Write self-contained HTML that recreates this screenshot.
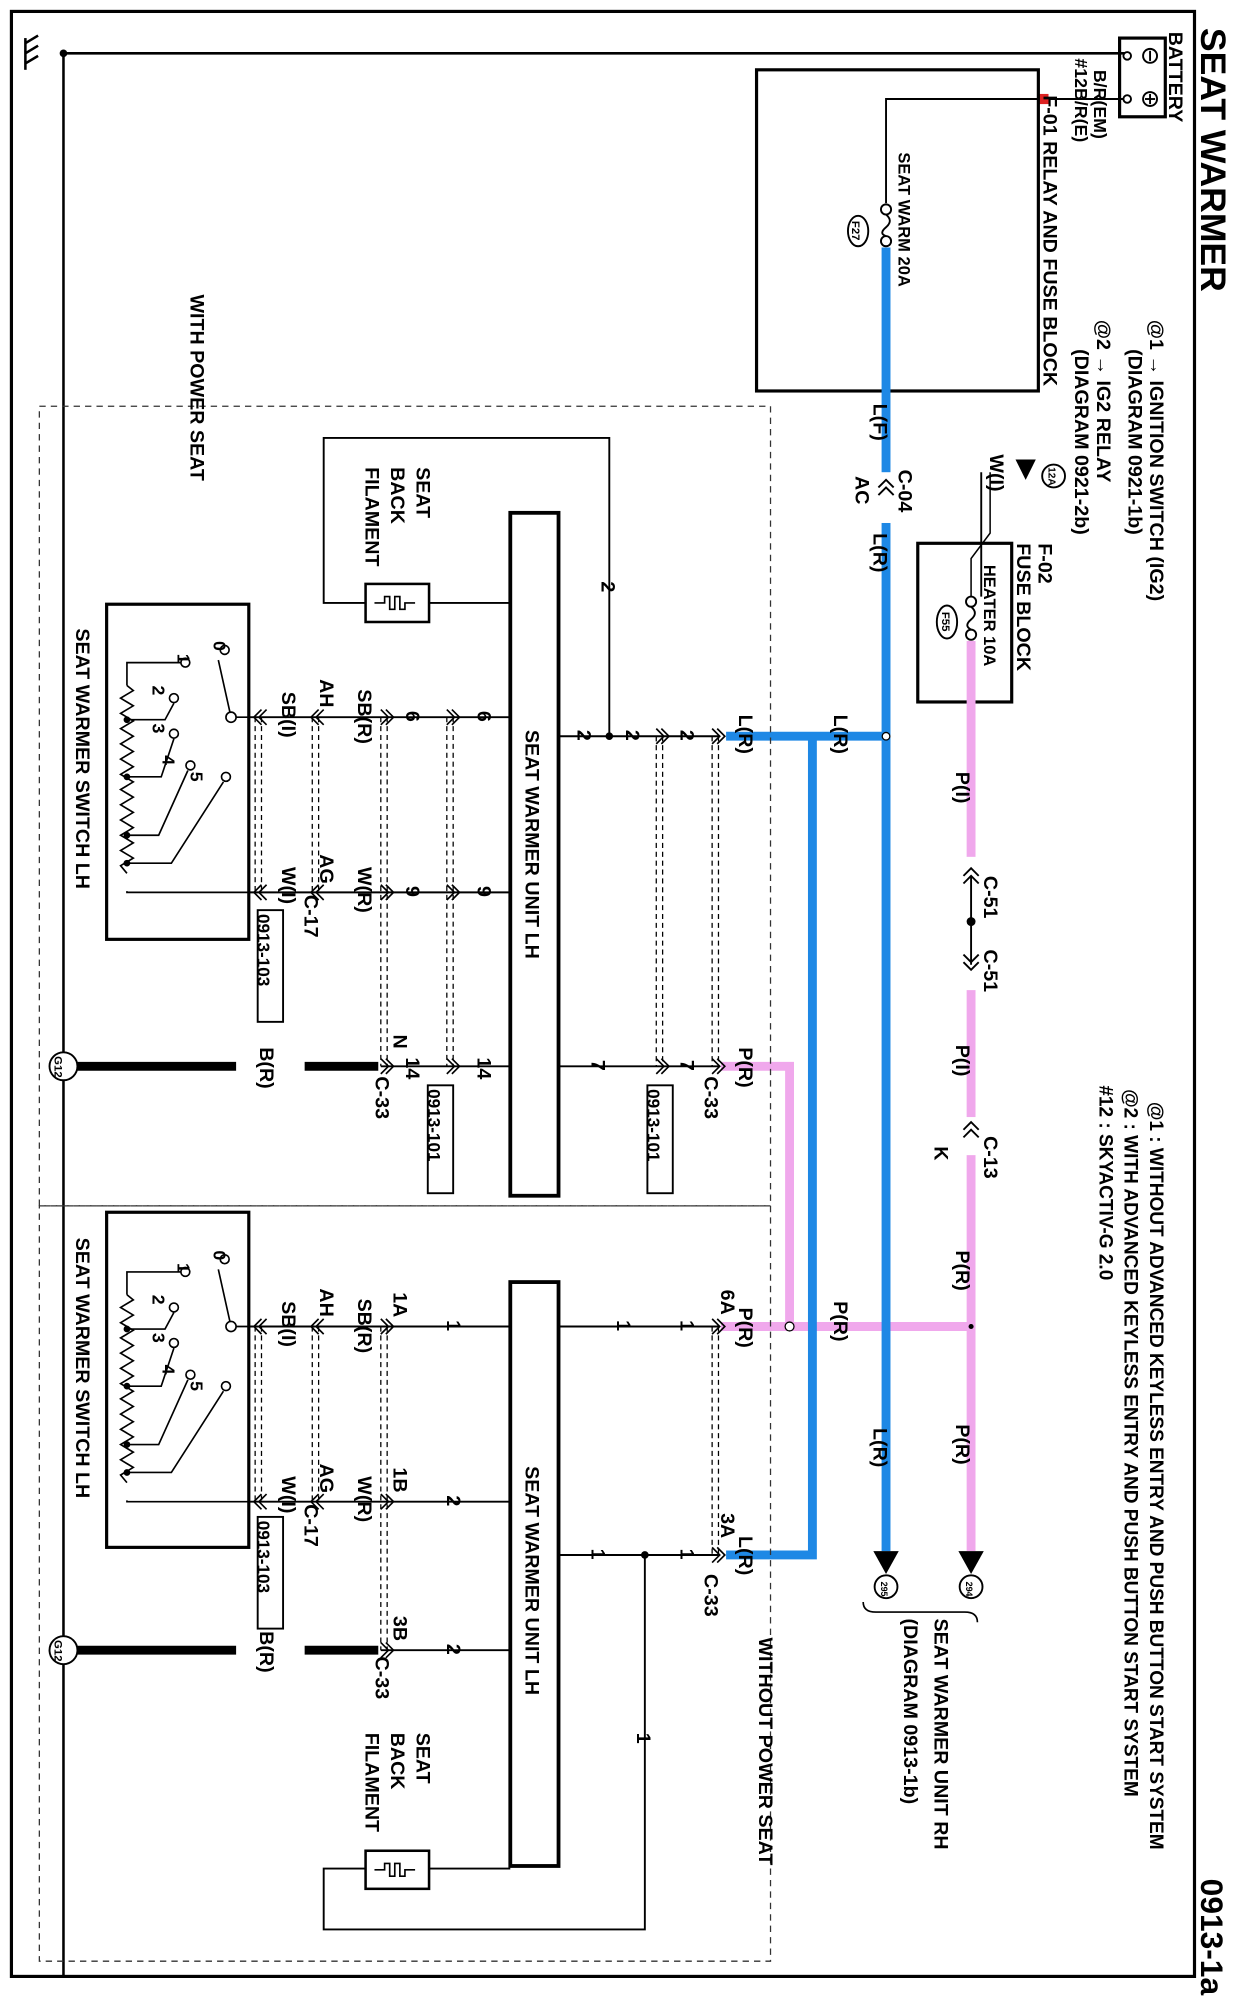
<!DOCTYPE html>
<html><head><meta charset="utf-8"><style>
html,body{margin:0;padding:0;background:#fff}
svg{display:block}
text{font-family:"Liberation Sans",sans-serif;font-weight:bold;fill:#000}
</style></head><body>
<svg width="1244" height="1998" viewBox="0 0 980 1574" preserveAspectRatio="none" xmlns="http://www.w3.org/2000/svg">
<rect x="0" y="0" width="980" height="1574" fill="#fff"/>
<rect x="9" y="9" width="932" height="1548" fill="none" stroke="#000" stroke-width="2.5"/>
<line x1="50" y1="42" x2="50" y2="1557" stroke="#000" stroke-width="2"/>
<line x1="50" y1="42" x2="886" y2="42" stroke="#000" stroke-width="2"/>
<circle cx="50" cy="42" r="3" fill="#000"/>
<g stroke="#000" stroke-width="2"><line x1="20" y1="30" x2="20" y2="55"/><line x1="20" y1="34" x2="30" y2="28"/><line x1="20" y1="42" x2="30" y2="36"/><line x1="20" y1="50" x2="30" y2="44"/></g>
<!-- battery -->
<rect x="882" y="30" width="36" height="62" fill="none" stroke="#000" stroke-width="2.5"/>
<circle cx="906" cy="44" r="5.5" fill="none" stroke="#000" stroke-width="1.5"/><line x1="906" y1="40" x2="906" y2="48" stroke="#000" stroke-width="1.5"/>
<circle cx="906" cy="78" r="5.5" fill="none" stroke="#000" stroke-width="1.5"/><line x1="906" y1="74" x2="906" y2="82" stroke="#000" stroke-width="1.5"/><line x1="902" y1="78" x2="910" y2="78" stroke="#000" stroke-width="1.5"/>
<circle cx="888" cy="44" r="3" fill="none" stroke="#000" stroke-width="1.5"/><circle cx="888" cy="78" r="3" fill="none" stroke="#000" stroke-width="1.5"/>
<line x1="822" y1="78" x2="885" y2="78" stroke="#000" stroke-width="1.5"/>
<rect x="818" y="74" width="8" height="8" fill="#d22"/>
<!-- F-01 box -->
<rect x="596" y="55" width="222" height="253" fill="none" stroke="#000" stroke-width="2.5"/>
<polyline points="818,78 698,78 698,160" fill="none" stroke="#000" stroke-width="1.5"/>
<circle cx="698" cy="165" r="4" fill="none" stroke="#000" stroke-width="1.5"/><circle cx="698" cy="190" r="4" fill="none" stroke="#000" stroke-width="1.5"/>
<path d="M698,169 q6,5 0,10 q-6,5 0,7" fill="none" stroke="#000" stroke-width="1.5"/>
<ellipse cx="676" cy="182" rx="8" ry="12" fill="none" stroke="#000" stroke-width="1.5"/>
<!-- F-02 box -->
<rect x="723" y="428" width="74" height="125" fill="none" stroke="#000" stroke-width="2.5"/>
<polyline points="773,372 773,470" fill="none" stroke="#000" stroke-width="1.5"/>
<polyline points="780,372 780,420 765,440 765,470" fill="none" stroke="#000" stroke-width="1.2"/>
<circle cx="765" cy="474" r="4" fill="none" stroke="#000" stroke-width="1.5"/><circle cx="765" cy="500" r="4" fill="none" stroke="#000" stroke-width="1.5"/>
<path d="M765,478 q6,5 0,10 q-6,5 0,8" fill="none" stroke="#000" stroke-width="1.5"/>
<ellipse cx="746" cy="490" rx="8" ry="13" fill="none" stroke="#000" stroke-width="1.5"/>
<circle cx="830" cy="375" r="9" fill="none" stroke="#000" stroke-width="1.5"/>
<path d="M800,362 l8,16 l8,-16 z" fill="#000"/>
<!-- pink wires -->
<g stroke="#f0a8ec" stroke-width="7" fill="none">
<line x1="765" y1="505" x2="765" y2="1222"/>
<line x1="568" y1="1045" x2="765" y2="1045"/>
<polyline points="568,840 622,840 622,1045"/>
</g>
<g stroke="#1e88e5" stroke-width="7" fill="none">
<line x1="698" y1="195" x2="698" y2="1222"/>
<line x1="572" y1="580" x2="698" y2="580"/>
<polyline points="640,580 640,1225 572,1225"/>
</g>
<rect x="692" y="372" width="12" height="40" fill="#fff"/>
<rect x="759" y="675" width="12" height="105" fill="#fff"/>
<rect x="759" y="880" width="12" height="30" fill="#fff"/>
<line x1="765" y1="690" x2="765" y2="760" stroke="#000" stroke-width="1.5"/>
<circle cx="765" cy="726" r="3.5" fill="#000"/>
<circle cx="698" cy="580" r="3" fill="#fff" stroke="#000"/>
<circle cx="622" cy="1045" r="3.5" fill="#fff" stroke="#000"/>
<circle cx="765" cy="1045" r="2" fill="#000"/>
<g fill="none" stroke="#000" stroke-width="1.5">
<path d="M704,384 l-6,-6 l-6,6 M704,390 l-6,-6 l-6,6"/>
<path d="M771,690 l-6,-6 l-6,6 M771,696 l-6,-6 l-6,6"/>
<path d="M759,752 l6,6 l6,-6 M759,758 l6,6 l6,-6"/>
<path d="M771,890 l-6,-6 l-6,6 M771,896 l-6,-6 l-6,6"/>
</g>
<path d="M688,1222 l10,18 l10,-18 z" fill="#000"/><path d="M755,1222 l10,18 l10,-18 z" fill="#000"/>
<circle cx="698" cy="1250" r="9" fill="none" stroke="#000" stroke-width="1.5"/><circle cx="765" cy="1250" r="9" fill="none" stroke="#000" stroke-width="1.5"/>
<path d="M680,1262 q0,8 10,8 l70,0 q10,0 10,8" fill="none" stroke="#000" stroke-width="1.3"/>
<rect x="31" y="320" width="576" height="630" fill="none" stroke="#333" stroke-width="1" stroke-dasharray="5,4"/>
<rect x="31" y="950" width="576" height="595" fill="none" stroke="#333" stroke-width="1" stroke-dasharray="5,4"/>
<rect x="402" y="404" width="38" height="538" fill="none" stroke="#000" stroke-width="3"/>
<rect x="402" y="1010" width="38" height="460" fill="none" stroke="#000" stroke-width="3"/>
<rect x="84" y="476" width="112" height="264" fill="none" stroke="#000" stroke-width="2.5"/>
<rect x="84" y="955" width="112" height="264" fill="none" stroke="#000" stroke-width="2.5"/>
<g id="sw" fill="none" stroke="#000" stroke-width="1.3">
<polyline points="196,565 182,565 172,520"/><circle cx="182" cy="565" r="4" fill="#fff"/>
<circle cx="177" cy="512" r="3.5"/><circle cx="146" cy="522" r="3.5"/><circle cx="137" cy="550" r="3.5"/><circle cx="137" cy="578" r="3.5"/><circle cx="150" cy="603" r="3.5"/><circle cx="178" cy="612" r="3.5"/>
<polyline points="143,522 100,522 100,540"/>
<path d="M100,540 l5,4 l-10,6 l10,6 l-10,6 l10,6 l-10,6 l10,6 l-10,6 l10,6 l-10,6 l10,6 l-10,6 l10,6 l-10,6 l10,6 l-10,6 l10,6 l-10,6 l10,6 l-10,6 l10,6 l-10,6 l10,6 l-10,6 l5,6"/>
<polyline points="100,702 100,703 196,703"/>
<polyline points="100,567 130,567 137,554"/><polyline points="100,612 127,612 137,582"/><polyline points="100,658 125,658 148,607"/><polyline points="100,680 135,680 176,616"/>
<circle cx="100" cy="567" r="2" fill="#000"/><circle cx="100" cy="612" r="2" fill="#000"/><circle cx="100" cy="658" r="2" fill="#000"/><circle cx="100" cy="680" r="2" fill="#000"/>
</g>
<use href="#sw" transform="translate(0,480)"/>
<g stroke="#000" stroke-width="1.5" fill="none">
<line x1="196" y1="565" x2="402" y2="565"/>
<line x1="196" y1="703" x2="402" y2="703"/>
<line x1="300" y1="840" x2="402" y2="840"/>
<line x1="440" y1="580" x2="566" y2="580"/>
<line x1="440" y1="840" x2="566" y2="840"/>
<polyline points="480,580 480,345 255,345 255,475 288,475"/>
<line x1="338" y1="475" x2="402" y2="475"/>
<line x1="196" y1="1045" x2="402" y2="1045"/>
<line x1="196" y1="1183" x2="402" y2="1183"/>
<line x1="300" y1="1300" x2="402" y2="1300"/>
<line x1="440" y1="1045" x2="566" y2="1045"/>
<line x1="440" y1="1225" x2="566" y2="1225"/>
<polyline points="508,1225 508,1520 255,1520 255,1472 288,1472"/>
<line x1="338" y1="1472" x2="402" y2="1472"/>
</g>
<circle cx="480" cy="580" r="3" fill="#000"/><circle cx="508" cy="1225" r="3" fill="#000"/>
<g fill="none" stroke="#000" stroke-width="2"><rect x="288" y="460" width="50" height="30"/><rect x="288" y="1458" width="50" height="30"/></g>
<g fill="none" stroke="#000" stroke-width="1.3"><path d="M295,475 h8 v-5 h4 v10 h4 v-10 h4 v10 h4 v-5 h8"/><path d="M295,1473 h8 v-5 h4 v10 h4 v-10 h4 v10 h4 v-5 h8"/></g>
<g stroke="#000" stroke-width="1" stroke-dasharray="4,3">
<line x1="201" y1="565" x2="201" y2="703"/><line x1="206" y1="565" x2="206" y2="703"/>
<line x1="246" y1="565" x2="246" y2="703"/><line x1="251" y1="565" x2="251" y2="703"/>
<line x1="300" y1="565" x2="300" y2="840"/><line x1="305" y1="565" x2="305" y2="840"/>
<line x1="352" y1="565" x2="352" y2="840"/><line x1="357" y1="565" x2="357" y2="840"/>
<line x1="517" y1="580" x2="517" y2="840"/><line x1="522" y1="580" x2="522" y2="840"/>
<line x1="561" y1="580" x2="561" y2="840"/><line x1="566" y1="580" x2="566" y2="840"/>
<line x1="201" y1="1045" x2="201" y2="1183"/><line x1="206" y1="1045" x2="206" y2="1183"/>
<line x1="246" y1="1045" x2="246" y2="1183"/><line x1="251" y1="1045" x2="251" y2="1183"/>
<line x1="300" y1="1045" x2="300" y2="1300"/><line x1="305" y1="1045" x2="305" y2="1300"/>
<line x1="561" y1="1045" x2="561" y2="1225"/><line x1="566" y1="1045" x2="566" y2="1225"/>
</g>
<g stroke="#000" stroke-width="7"><line x1="60" y1="840" x2="186" y2="840"/><line x1="240" y1="840" x2="298" y2="840"/><line x1="60" y1="1300" x2="186" y2="1300"/><line x1="240" y1="1300" x2="298" y2="1300"/></g>
<g fill="#fff" stroke="#000" stroke-width="1.5"><circle cx="50" cy="840" r="11"/><circle cx="50" cy="1300" r="11"/></g>
<g fill="none" stroke="#000" stroke-width="1.5">
<rect x="203" y="717" width="20" height="88"/><rect x="337" y="855" width="20" height="85"/><rect x="510" y="855" width="20" height="85"/><rect x="203" y="1195" width="20" height="88"/>
</g>
<g fill="none" stroke="#000" stroke-width="1.3">
<path d="M210,559 l-6,6 l6,6 M206,559 l-6,6 l6,6 M210,697 l-6,6 l6,6 M206,697 l-6,6 l6,6"/>
<path d="M255,559 l-6,6 l6,6 M251,559 l-6,6 l6,6 M255,697 l-6,6 l6,6 M251,697 l-6,6 l6,6"/>
<path d="M300,559 l6,6 l-6,6 M304,559 l6,6 l-6,6 M300,697 l6,6 l-6,6 M304,697 l6,6 l-6,6 M300,834 l6,6 l-6,6 M304,834 l6,6 l-6,6"/>
<path d="M352,559 l6,6 l-6,6 M356,559 l6,6 l-6,6 M352,697 l6,6 l-6,6 M356,697 l6,6 l-6,6 M352,834 l6,6 l-6,6 M356,834 l6,6 l-6,6"/>
<path d="M517,574 l6,6 l-6,6 M521,574 l6,6 l-6,6 M517,834 l6,6 l-6,6 M521,834 l6,6 l-6,6"/>
<path d="M561,574 l6,6 l-6,6 M565,574 l6,6 l-6,6 M561,834 l6,6 l-6,6 M565,834 l6,6 l-6,6"/>
<path d="M210,1039 l-6,6 l6,6 M206,1039 l-6,6 l6,6 M210,1177 l-6,6 l6,6 M206,1177 l-6,6 l6,6"/>
<path d="M255,1039 l-6,6 l6,6 M251,1039 l-6,6 l6,6 M255,1177 l-6,6 l6,6 M251,1177 l-6,6 l6,6"/>
<path d="M300,1039 l6,6 l-6,6 M304,1039 l6,6 l-6,6 M300,1177 l6,6 l-6,6 M304,1177 l6,6 l-6,6 M300,1294 l6,6 l-6,6 M304,1294 l6,6 l-6,6"/>
<path d="M561,1039 l6,6 l-6,6 M565,1039 l6,6 l-6,6 M561,1219 l6,6 l-6,6 M565,1219 l6,6 l-6,6"/>
</g>
<g font-size="15.5">
<text transform="translate(946,22) rotate(90)" font-size="28" font-weight="normal">SEAT WARMER</text>
<text transform="translate(946,1480) rotate(90)" font-size="25" font-weight="normal">0913-1a</text>
<text transform="translate(921,25) rotate(90)">BATTERY</text>
<text transform="translate(906,252) rotate(90)">@1 → IGNITION SWITCH (IG2)</text>
<text transform="translate(889,275) rotate(90)">(DIAGRAM 0921-1b)</text>
<text transform="translate(864,252) rotate(90)">@2 → IG2 RELAY</text>
<text transform="translate(847,275) rotate(90)">(DIAGRAM 0921-2b)</text>
<text transform="translate(862,55) rotate(90)" font-size="14">B/R(EM)</text>
<text transform="translate(847,46) rotate(90)" font-size="14">#12B/R(E)</text>
<text transform="translate(822,75) rotate(90)">F-01 RELAY AND FUSE BLOCK</text>
<text transform="translate(708,120) rotate(90)" font-size="13">SEAT WARM 20A</text>
<text transform="translate(671,174) rotate(90)" font-size="9">F27</text>
<text transform="translate(780,358) rotate(90)">W(I)</text>
<text transform="translate(826,368) rotate(90)" font-size="8">12A</text>
<text transform="translate(818,428) rotate(90)">F-02</text>
<text transform="translate(801,428) rotate(90)">FUSE BLOCK</text>
<text transform="translate(775,445) rotate(90)" font-size="13">HEATER 10A</text>
<text transform="translate(742,482) rotate(90)" font-size="9">F55</text>
<text transform="translate(688,318) rotate(90)">L(F)</text>
<text transform="translate(708,370) rotate(90)">C-04</text>
<text transform="translate(674,375) rotate(90)">AC</text>
<text transform="translate(688,420) rotate(90)">L(R)</text>
<text transform="translate(657,563) rotate(90)">L(R)</text>
<text transform="translate(753,608) rotate(90)">P(I)</text>
<text transform="translate(775,690) rotate(90)">C-51</text>
<text transform="translate(775,748) rotate(90)">C-51</text>
<text transform="translate(753,823) rotate(90)">P(I)</text>
<text transform="translate(775,895) rotate(90)">C-13</text>
<text transform="translate(736,903) rotate(90)">K</text>
<text transform="translate(753,985) rotate(90)">P(R)</text>
<text transform="translate(657,1025) rotate(90)">P(R)</text>
<text transform="translate(688,1125) rotate(90)">L(R)</text>
<text transform="translate(753,1122) rotate(90)">P(R)</text>
<text transform="translate(906,868) rotate(90)" font-size="15">@1 : WITHOUT ADVANCED KEYLESS ENTRY AND PUSH BUTTON START SYSTEM</text>
<text transform="translate(886,858) rotate(90)" font-size="15">@2 : WITH ADVANCED KEYLESS ENTRY AND PUSH BUTTON START SYSTEM</text>
<text transform="translate(866,855) rotate(90)" font-size="15">#12 : SKYACTIV-G 2.0</text>
<text transform="translate(736,1275) rotate(90)">SEAT WARMER UNIT RH</text>
<text transform="translate(712,1275) rotate(90)">(DIAGRAM 0913-1b)</text>
<text transform="translate(694,1246) rotate(90)" font-size="7">295</text>
<text transform="translate(761,1246) rotate(90)" font-size="7">294</text>
<text transform="translate(598,1290) rotate(90)">WITHOUT POWER SEAT</text>
<text transform="translate(150,232) rotate(90)">WITH POWER SEAT</text>
<text transform="translate(414,575) rotate(90)">SEAT WARMER UNIT LH</text>
<text transform="translate(414,1155) rotate(90)">SEAT WARMER UNIT LH</text>
<text transform="translate(328,368) rotate(90)">SEAT</text>
<text transform="translate(308,368) rotate(90)">BACK</text>
<text transform="translate(288,368) rotate(90)">FILAMENT</text>
<text transform="translate(328,1365) rotate(90)">SEAT</text>
<text transform="translate(308,1365) rotate(90)">BACK</text>
<text transform="translate(288,1365) rotate(90)">FILAMENT</text>
<text transform="translate(60,495) rotate(90)">SEAT WARMER SWITCH LH</text>
<text transform="translate(60,975) rotate(90)">SEAT WARMER SWITCH LH</text>
<text transform="translate(582,563) rotate(90)">L(R)</text>
<text transform="translate(582,825) rotate(90)">P(R)</text>
<text transform="translate(555,848) rotate(90)">C-33</text>
<text transform="translate(510,858) rotate(90)" font-size="13.5">0913-101</text>
<text transform="translate(337,858) rotate(90)" font-size="13.5">0913-101</text>
<text transform="translate(203,720) rotate(90)" font-size="13.5">0913-103</text>
<text transform="translate(203,1198) rotate(90)" font-size="13.5">0913-103</text>
<text transform="translate(536,575) rotate(90)">2</text><text transform="translate(493,575) rotate(90)">2</text><text transform="translate(455,575) rotate(90)">2</text>
<text transform="translate(474,458) rotate(90)">2</text>
<text transform="translate(536,835) rotate(90)">7</text><text transform="translate(466,835) rotate(90)">7</text>
<text transform="translate(376,560) rotate(90)">6</text><text transform="translate(320,560) rotate(90)">6</text>
<text transform="translate(376,698) rotate(90)">9</text><text transform="translate(320,698) rotate(90)">9</text>
<text transform="translate(376,833) rotate(90)">14</text><text transform="translate(320,833) rotate(90)">14</text>
<text transform="translate(310,815) rotate(90)">N</text>
<text transform="translate(296,848) rotate(90)">C-33</text>
<text transform="translate(205,825) rotate(90)">B(R)</text>
<text transform="translate(282,543) rotate(90)">SB(R)</text>
<text transform="translate(252,535) rotate(90)">AH</text>
<text transform="translate(222,545) rotate(90)">SB(I)</text>
<text transform="translate(282,683) rotate(90)">W(R)</text>
<text transform="translate(252,673) rotate(90)">AG</text>
<text transform="translate(222,683) rotate(90)">W(I)</text>
<text transform="translate(240,705) rotate(90)">C-17</text>
<text transform="translate(582,1030) rotate(90)">P(R)</text>
<text transform="translate(568,1016) rotate(90)">6A</text>
<text transform="translate(582,1210) rotate(90)">L(R)</text>
<text transform="translate(568,1192) rotate(90)">3A</text>
<text transform="translate(555,1240) rotate(90)">C-33</text>
<text transform="translate(536,1040) rotate(90)">1</text><text transform="translate(486,1040) rotate(90)">1</text>
<text transform="translate(536,1220) rotate(90)">1</text><text transform="translate(466,1220) rotate(90)">1</text>
<text transform="translate(502,1365) rotate(90)">1</text>
<text transform="translate(352,1040) rotate(90)">1</text><text transform="translate(352,1178) rotate(90)">2</text><text transform="translate(352,1295) rotate(90)">2</text>
<text transform="translate(310,1018) rotate(90)">1A</text>
<text transform="translate(310,1156) rotate(90)">1B</text>
<text transform="translate(310,1273) rotate(90)">3B</text>
<text transform="translate(296,1305) rotate(90)">C-33</text>
<text transform="translate(205,1285) rotate(90)">B(R)</text>
<text transform="translate(282,1023) rotate(90)">SB(R)</text>
<text transform="translate(252,1015) rotate(90)">AH</text>
<text transform="translate(222,1025) rotate(90)">SB(I)</text>
<text transform="translate(282,1163) rotate(90)">W(R)</text>
<text transform="translate(252,1153) rotate(90)">AG</text>
<text transform="translate(222,1163) rotate(90)">W(I)</text>
<text transform="translate(240,1185) rotate(90)">C-17</text>
<text transform="translate(43,832) rotate(90)" font-size="9">G12</text>
<text transform="translate(43,1292) rotate(90)" font-size="9">G12</text>
</g>
<g font-size="14" font-weight="normal">
<text transform="translate(168,505) rotate(90)">0</text><text transform="translate(140,515) rotate(90)">1</text><text transform="translate(120,540) rotate(90)">2</text><text transform="translate(120,570) rotate(90)">3</text><text transform="translate(128,595) rotate(90)">4</text><text transform="translate(150,608) rotate(90)">5</text>
<text transform="translate(168,985) rotate(90)">0</text><text transform="translate(140,995) rotate(90)">1</text><text transform="translate(120,1020) rotate(90)">2</text><text transform="translate(120,1050) rotate(90)">3</text><text transform="translate(128,1075) rotate(90)">4</text><text transform="translate(150,1088) rotate(90)">5</text>
</g>
</svg>
</body></html>
